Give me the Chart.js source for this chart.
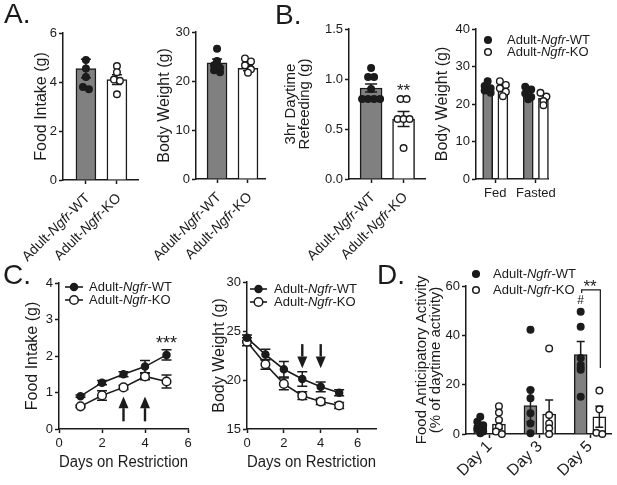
<!DOCTYPE html>
<html>
<head>
<meta charset="utf-8">
<title>Adult Ngfr WT vs KO feeding</title>
<script src="https://cdn.jsdelivr.net/npm/chart.js@4.4.1/dist/chart.umd.min.js"></script>
<style>
  body { margin: 0; background: #fff; }
  #fig { position: relative; width: 617px; height: 485px; overflow: hidden; }
  #fig canvas { position: absolute; left: 0; top: 0; }
  .tag { position: absolute; font: 28px/28px 'Liberation Sans', Arial, sans-serif; color: #1b1b1b; }
</style>
</head>
<body>
<div id="fig">
  <canvas id="a1" width="617" height="485"></canvas>
  <canvas id="a2" width="617" height="485"></canvas>
  <canvas id="b1" width="617" height="485"></canvas>
  <canvas id="b2" width="617" height="485"></canvas>
  <canvas id="c1" width="617" height="485"></canvas>
  <canvas id="c2" width="617" height="485"></canvas>
  <canvas id="d" width="617" height="485"></canvas>
  <div class="tag" style="left:4px;top:0px">A.</div>
  <div class="tag" style="left:275px;top:1px">B.</div>
  <div class="tag" style="left:3px;top:261px">C.</div>
  <div class="tag" style="left:377px;top:261px">D.</div>
</div>
<script>
// values (mean, sem, individual animals)
const genoLabels = ['Adult-_Ngfr_-WT', 'Adult-_Ngfr_-KO'];

// A. ad lib food intake / body weight
const intakeMean = [4.55, 4.1];
const intakeSem = [0.38, 0.2];
const intakeWT = [4.9, 4.55, 4.2, 3.8, 3.7];
const intakeKO = [4.65, 4.4, 4.1, 4.05, 3.5];
const weightMean = [23.7, 22.6];
const weightSem = [0.8, 0.5];
const weightWT = [26.6, 24.1, 23.2, 22.7, 22.2, 21.8];
const weightKO = [24.6, 24.0, 23.2, 22.4, 21.7];

// B. 3hr refeeding, fed vs fasted weight
const refeedMean = [0.91, 0.6];
const refeedSem = [0.04, 0.075];
const refeedWT = [1.11, 1.02, 1.02, 0.9, 0.8, 0.8, 0.8, 0.8];
const refeedKO = [0.8, 0.8, 0.6, 0.6, 0.6, 0.31];
const states = ['Fed', 'Fasted'];
const stateWTMean = [24.2, 22.4];
const stateWTSem = [0.5, 0.6];
const stateKOMean = [23.9, 21.5];
const stateKOSem = [0.6, 0.7];
const stateWT = [[26.1, 24.8, 24.2, 23.6, 23.0], [24.6, 23.9, 22.8, 21.9, 21.3]];
const stateKO = [[26.1, 25.1, 24.2, 23.3, 22.1], [23.0, 22.0, 20.8, 19.7]];

// C. time course on restriction
const foodDays = [1, 2, 3, 4, 5];
const foodWT = [0.9, 1.27, 1.5, 1.71, 2.03];
const foodWTSem = [0.03, 0.06, 0.07, 0.17, 0.14];
const foodKO = [0.62, 0.92, 1.14, 1.44, 1.3];
const foodKOSem = [0.03, 0.13, 0.06, 0.09, 0.18];
const bwDays = [0, 1, 2, 3, 4, 5];
const bwWT = [24.3, 22.6, 21.1, 20.1, 19.3, 18.7];
const bwWTSem = [0.3, 0.55, 0.8, 0.75, 0.5, 0.3];
const bwKO = [23.9, 21.6, 19.6, 18.4, 17.8, 17.4];
const bwKOSem = [0.4, 0.5, 0.6, 0.4, 0.3, 0.3];
const arrowDays = [3, 4];
const dayTicks = [0, 2, 4, 6];

// D. food anticipatory activity
const faaDays = ['Day 1', 'Day 3', 'Day 5'];
const faaWTMean = [3.6, 11.5, 32.2];
const faaWTSem = [1.0, 6.5, 5.3];
const faaKOMean = [4.0, 8.1, 7.0];
const faaKOSem = [1.9, 5.7, 4.3];
const faaWT = [[7, 5, 3.5, 2, 1, 0.3], [42.3, 17.8, 14.5, 8.4, 4.3, 0.3], [49.6, 43.5, 30.8, 28, 26, 15.1]];
const faaKO = [[11.3, 8.7, 5.7, 3, 1, 0], [34.7, 7.7, 4.3, 2.3, 0], [17.6, 10, 0.5, 0]];

// ---- drawing helpers ----
const PW = 617, PH = 485;
const FONT = "'Liberation Sans', Arial, Helvetica, sans-serif";
const INK = '#1b1b1b';
const GREY = '#808080';

function drawRich(ctx, label, x, y, size, align) {
  const segs = label.split('_').map((t, i) => [t, i % 2 === 1]);
  const fontOf = it => (it ? 'italic ' : '') + size + 'px ' + FONT;
  const widths = segs.map(([t, it]) => { ctx.font = fontOf(it); return ctx.measureText(t).width; });
  const total = widths.reduce((a, b) => a + b, 0);
  let cx = align === 'right' ? x - total : align === 'center' ? x - total / 2 : x;
  ctx.textAlign = 'left';
  segs.forEach(([t, it], i) => { ctx.font = fontOf(it); ctx.fillText(t, cx, y); cx += widths[i]; });
}

// spread tied points sideways (rows of near-equal values)
function swarm(values, pxPerY, gap, tol) {
  const idx = values.map((v, i) => i).sort((a, b) => values[b] - values[a]);
  const off = values.map(() => 0);
  let row = [];
  const flush = () => { row.forEach((i, k) => { off[i] = (k - (row.length - 1) / 2) * gap; }); row = []; };
  idx.forEach(i => {
    if (row.length && (values[row[0]] - values[i]) * pxPerY > tol) flush();
    row.push(i);
  });
  flush();
  return off;
}

function drawErrors(chart, rows, cap) {
  const {ctx} = chart;
  const x = chart.scales.x, y = chart.scales.y;
  ctx.save();
  ctx.strokeStyle = INK;
  ctx.lineWidth = 1.5;
  rows.forEach(([xv, m, e]) => {
    const px = x.getPixelForValue(xv);
    const top = y.getPixelForValue(m + e), bot = y.getPixelForValue(m - e);
    ctx.beginPath();
    ctx.moveTo(px, top); ctx.lineTo(px, bot);
    ctx.moveTo(px - cap / 2, top); ctx.lineTo(px + cap / 2, top);
    ctx.moveTo(px - cap / 2, bot); ctx.lineTo(px + cap / 2, bot);
    ctx.stroke();
  });
  ctx.restore();
}

function rotLabels(chart, values, labels, size, dx, dy) {
  const ctx = chart.ctx, x = chart.scales.x, y = chart.scales.y;
  values.forEach((v, i) => {
    ctx.save();
    ctx.translate(x.getPixelForValue(v) + dx, y.bottom + dy);
    ctx.rotate(-Math.PI / 4);
    ctx.fillStyle = INK;
    ctx.textBaseline = 'middle';
    drawRich(ctx, labels[i], 0, 0, size, 'right');
    ctx.restore();
  });
}

function marker(ctx, x, y, r, filled) {
  ctx.beginPath();
  ctx.arc(x, y, r, 0, Math.PI * 2);
  ctx.fillStyle = filled ? INK : '#fff';
  ctx.fill();
  ctx.lineWidth = 1.5;
  ctx.strokeStyle = INK;
  ctx.stroke();
}

function dotLegend(ctx, mx, tx, ys, r) {
  ctx.save();
  ys.forEach((yy, i) => {
    marker(ctx, mx, yy, r, i === 0);
    ctx.fillStyle = INK;
    ctx.textBaseline = 'middle';
    drawRich(ctx, genoLabels[i], tx, yy, 13, 'left');
  });
  ctx.restore();
}

function lineLegend(ctx, x0, x1, tx, ys, radii) {
  ctx.save();
  ys.forEach((yy, i) => {
    ctx.beginPath();
    ctx.moveTo(x0, yy); ctx.lineTo(x1, yy);
    ctx.strokeStyle = INK; ctx.lineWidth = 1.6; ctx.stroke();
    marker(ctx, (x0 + x1) / 2, yy, radii[i], i === 0);
    ctx.fillStyle = INK;
    ctx.textBaseline = 'middle';
    drawRich(ctx, genoLabels[i], tx, yy, 13, 'left');
  });
  ctx.restore();
}

function stars(chart, text, xv, yv, size) {
  const ctx = chart.ctx;
  ctx.save();
  ctx.fillStyle = INK;
  ctx.font = size + 'px ' + FONT;
  ctx.textAlign = 'center';
  ctx.textBaseline = 'alphabetic';
  ctx.fillText(text, chart.scales.x.getPixelForValue(xv), chart.scales.y.getPixelForValue(yv));
  ctx.restore();
}

function arrow(chart, xv, tail, headBase, tip) {
  const ctx = chart.ctx, x = chart.scales.x, y = chart.scales.y;
  const px = x.getPixelForValue(xv);
  ctx.save();
  ctx.strokeStyle = INK; ctx.fillStyle = INK; ctx.lineWidth = 2.4;
  ctx.beginPath();
  ctx.moveTo(px, y.getPixelForValue(tail)); ctx.lineTo(px, y.getPixelForValue(headBase));
  ctx.stroke();
  const hb = y.getPixelForValue(headBase), tp = y.getPixelForValue(tip);
  ctx.beginPath();
  ctx.moveTo(px - 5, hb); ctx.lineTo(px + 5, hb); ctx.lineTo(px, tp); ctx.closePath();
  ctx.fill();
  ctx.restore();
}

function withDefaults(L) {
  return Object.assign({titleSize: 16, titleLH: 1.2, xh: 8, dotR: 3.3, cap: 10}, L);
}

function yAxis(L, title) {
  const left = L.titleX - L.titleSize * L.titleLH / 2;
  return {
    type: 'linear', position: 'left', min: L.ymin, max: L.ymax,
    border: {display: true, color: INK, width: 1.5},
    grid: {drawOnChartArea: false, drawTicks: true, tickLength: 4, tickWidth: 1.5, color: INK},
    ticks: {stepSize: L.step, color: INK, padding: 2, font: {family: FONT, size: 13},
            callback: L.fmt || (v => String(v))},
    title: {display: true, text: title, color: INK, padding: 0,
            font: {family: FONT, size: L.titleSize, lineHeight: L.titleLH}},
    afterFit(s) { s.width = L.l - left; s.paddingTop = 0; s.paddingBottom = 0; }
  };
}

function xAxis(L, ticksX, flat, title) {
  const sc = {
    type: 'linear', position: 'bottom', min: L.xmin, max: L.xmax, offset: false,
    border: {display: true, color: INK, width: 1.5},
    grid: {drawOnChartArea: false, drawTicks: true, tickLength: 4, tickWidth: 1.5, color: INK, offset: false},
    ticks: {display: !!flat, color: INK, padding: 3, autoSkip: false, maxRotation: 0,
            font: {family: FONT, size: 13},
            callback: (v, i) => (flat === true ? String(v) : flat ? flat[i] : '')},
    afterBuildTicks(s) { s.ticks = ticksX.map(v => ({value: v})); },
    afterFit(s) { s.height = L.xh; s.paddingLeft = 0; s.paddingRight = 0; }
  };
  if (title) sc.title = {display: true, text: title, color: INK, padding: 0, font: {family: FONT, size: 16}};
  return sc;
}

function options(L, scales) {
  return {
    responsive: false, animation: false, events: [], devicePixelRatio: 1,
    layout: {padding: {left: L.titleX - L.titleSize * L.titleLH / 2, right: PW - L.r, top: L.t, bottom: PH - L.b - L.xh}},
    plugins: {legend: {display: false}, tooltip: {enabled: false}},
    scales
  };
}

// groups: [{x, mean, sem, fill, dots, dotFill}]
function barPanel(id, Lraw, groups, title, ticksX, flat, deco) {
  const L = withDefaults(Lraw);
  const pxX = (L.r - L.l) / (L.xmax - L.xmin);
  const pxY = (L.b - L.t) / (L.ymax - L.ymin);
  const datasets = [{
    type: 'bar', order: 2, clip: false,
    data: groups.map(g => ({x: g.x, y: g.mean})),
    backgroundColor: groups.map(g => g.fill),
    borderColor: INK, borderWidth: 1.5, barThickness: L.barW
  }];
  groups.forEach(g => {
    const off = swarm(g.dots, pxY, 6, 4);
    datasets.push({
      type: 'scatter', order: 1, clip: false,
      data: g.dots.map((v, i) => ({x: g.x + off[i] / pxX, y: v})),
      pointRadius: L.dotR, pointBackgroundColor: g.dotFill, pointBorderColor: INK, pointBorderWidth: 1.4
    });
  });
  new Chart(document.getElementById(id), {
    type: 'bar',
    data: {datasets},
    options: options(L, {x: xAxis(L, ticksX, flat), y: yAxis(L, title)}),
    plugins: [{
      id: 'errbars',
      afterDatasetDraw(chart, args) {
        if (args.index === 0) drawErrors(chart, groups.map(g => [g.x, g.mean, g.sem]), L.cap);
      }
    }, {
      id: 'deco',
      afterDraw(chart) { if (deco) deco(chart, chart.ctx); }
    }]
  });
}

// series: [{y, sem, filled, r}]
function linePanel(id, Lraw, xs, series, title, deco) {
  const L = withDefaults(Lraw);
  const datasets = series.map((s, k) => ({
    type: 'scatter', showLine: true, order: k, clip: false,
    data: xs.map((d, i) => ({x: d, y: s.y[i]})),
    borderColor: INK, borderWidth: 1.6,
    pointRadius: s.r, pointBackgroundColor: s.filled ? INK : '#fff',
    pointBorderColor: INK, pointBorderWidth: 1.5
  }));
  new Chart(document.getElementById(id), {
    type: 'scatter',
    data: {datasets},
    options: options(L, {x: xAxis(L, dayTicks, true, 'Days on Restriction'), y: yAxis(L, title)}),
    plugins: [{
      id: 'errbars',
      beforeDatasetsDraw(chart) {
        series.forEach(s => drawErrors(chart, xs.map((d, i) => [d, s.y[i], s.sem[i]]), L.cap));
      }
    }, {
      id: 'deco',
      afterDraw(chart) { if (deco) deco(chart, chart.ctx); }
    }]
  });
}

// ---- A ----
barPanel('a1', {l: 63, r: 138, t: 33, b: 180, xmin: 0.26, xmax: 2.68, ymin: 0, ymax: 6, step: 2, titleX: 42, barW: 20},
  [{x: 1, mean: intakeMean[0], sem: intakeSem[0], fill: GREY, dots: intakeWT, dotFill: INK},
   {x: 2, mean: intakeMean[1], sem: intakeSem[1], fill: '#fff', dots: intakeKO, dotFill: '#fff'}],
  'Food Intake (g)', [1, 2], null,
  chart => rotLabels(chart, [1, 2], genoLabels, 14, 2, 16));

barPanel('a2', {l: 196, r: 265, t: 32, b: 179, xmin: 0.32, xmax: 2.55, ymin: 0, ymax: 30, step: 10, titleX: 165, barW: 20},
  [{x: 1, mean: weightMean[0], sem: weightSem[0], fill: GREY, dots: weightWT, dotFill: INK},
   {x: 2, mean: weightMean[1], sem: weightSem[1], fill: '#fff', dots: weightKO, dotFill: '#fff'}],
  'Body Weight (g)', [1, 2], null,
  chart => rotLabels(chart, [1, 2], genoLabels, 14, 2, 16));

// ---- B ----
barPanel('b1', {l: 349, r: 425, t: 29, b: 179, xmin: 0.32, xmax: 2.66, ymin: 0, ymax: 1.5, step: 0.5,
                titleX: 291, titleSize: 15, titleLH: 14 / 15, barW: 22, cap: 12, fmt: v => v.toFixed(1)},
  [{x: 1, mean: refeedMean[0], sem: refeedSem[0], fill: GREY, dots: refeedWT, dotFill: INK},
   {x: 2, mean: refeedMean[1], sem: refeedSem[1], fill: '#fff', dots: refeedKO, dotFill: '#fff'}],
  ['3hr Daytime', 'Refeeding (g)'], [1, 2], null,
  chart => {
    rotLabels(chart, [1, 2], genoLabels, 14, 2, 16);
    stars(chart, '**', 2, 0.83, 17);
  });

const bOff = 0.1875;
barPanel('b2', {l: 476, r: 548, t: 29, b: 179, xmin: 0.525, xmax: 2.3, ymin: 0, ymax: 40, step: 10, titleX: 443,
                barW: 10, cap: 8, xh: 26},
  states.flatMap((s, i) => [
    {x: i + 1 - bOff, mean: stateWTMean[i], sem: stateWTSem[i], fill: GREY, dots: stateWT[i], dotFill: INK},
    {x: i + 1 + bOff, mean: stateKOMean[i], sem: stateKOSem[i], fill: '#fff', dots: stateKO[i], dotFill: '#fff'}
  ]),
  'Body Weight (g)', [1, 2], states,
  (chart, ctx) => dotLegend(ctx, 488, 507, [40, 52], 3.3));

// ---- C ----
linePanel('c1', {l: 59, r: 188, t: 283, b: 429, xmin: 0, xmax: 6, ymin: 0, ymax: 4, step: 1, titleX: 33, xh: 43.6},
  foodDays,
  [{y: foodWT, sem: foodWTSem, filled: true, r: 3.5}, {y: foodKO, sem: foodKOSem, filled: false, r: 4.3}],
  'Food Intake (g)',
  (chart, ctx) => {
    lineLegend(ctx, 65, 83, 89, [287, 300], [3.5, 4.3]);
    stars(chart, '***', 5, 2.2, 18);
    arrowDays.forEach(d => arrow(chart, d, 0.21, 0.57, 0.89));
  });

linePanel('c2', {l: 247, r: 376, t: 282, b: 429, xmin: 0, xmax: 7, ymin: 15, ymax: 30, step: 5, titleX: 220, xh: 43.6},
  bwDays,
  [{y: bwWT, sem: bwWTSem, filled: true, r: 3.5}, {y: bwKO, sem: bwKOSem, filled: false, r: 4.3}],
  'Body Weight (g)',
  (chart, ctx) => {
    lineLegend(ctx, 250, 267, 274, [289, 302], [3.5, 4.3]);
    arrowDays.forEach(d => arrow(chart, d, 23.66, 22.4, 21.2));
  });

// ---- D ----
const dOff = 0.186;
barPanel('d', {l: 466, r: 614, t: 286, b: 434, xmin: 0.53, xmax: 3.43, ymin: 0, ymax: 60, step: 20,
               titleX: 422, titleSize: 15, titleLH: 14 / 15, barW: 13, cap: 8},
  faaDays.flatMap((s, i) => [
    {x: i + 1 - dOff, mean: faaWTMean[i], sem: faaWTSem[i], fill: GREY, dots: faaWT[i], dotFill: INK},
    {x: i + 1 + dOff, mean: faaKOMean[i], sem: faaKOSem[i], fill: '#fff', dots: faaKO[i], dotFill: '#fff'}
  ]),
  ['Food Anticipatory Activity', '(% of daytime activity)'], [1, 2, 3], null,
  (chart, ctx) => {
    rotLabels(chart, [1, 2, 3], faaDays, 16, 0, 10);
    dotLegend(ctx, 476, 493, [274, 290], 3.3);
    stars(chart, '#', 3 - dOff, 52.6, 12);
    stars(chart, '**', 3, 57.7, 17);
    const x = chart.scales.x, y = chart.scales.y;
    const xl = x.getPixelForValue(3 - dOff) + 1, xr = x.getPixelForValue(3 + dOff) + 1;
    ctx.save();
    ctx.strokeStyle = INK; ctx.lineWidth = 1.2;
    ctx.beginPath();
    ctx.moveTo(xl, y.getPixelForValue(57.2));
    ctx.lineTo(xl, y.getPixelForValue(58.4));
    ctx.lineTo(xr, y.getPixelForValue(58.4));
    ctx.lineTo(xr, y.getPixelForValue(26.8));
    ctx.stroke();
    ctx.restore();
  });
</script>
</body>
</html>
